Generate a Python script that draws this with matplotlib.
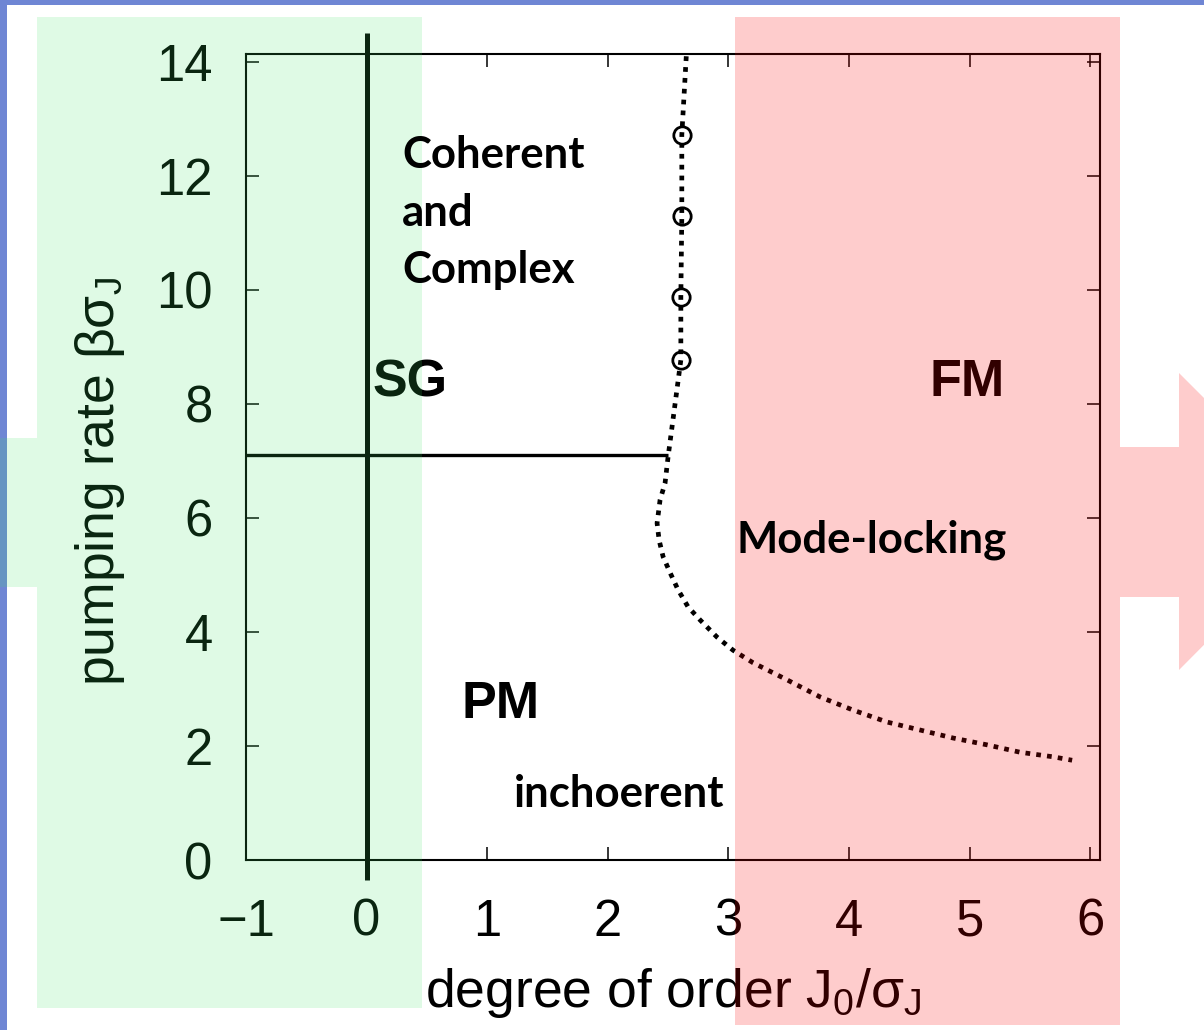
import numpy as np
import matplotlib
matplotlib.use("Agg")
import matplotlib.pyplot as plt
from matplotlib.patches import Polygon

plt.rcParams['font.family'] = ['Liberation Sans', 'DejaVu Sans']
plt.rcParams['mathtext.default'] = 'regular'

# phase boundary (dotted)
boundary_x = [2.65, 2.613, 2.613, 2.605, 2.605, 2.499, 2.474, 2.433, 2.408, 2.425,
              2.458, 2.516, 2.582, 2.665, 2.765, 2.905, 3.038, 3.204, 3.486, 3.760,
              4.033, 4.315, 4.589, 4.862, 5.144, 5.418, 5.692, 5.849]
boundary_y = [14.1, 12.72, 11.29, 9.88, 8.77, 7.07, 6.61, 6.32, 5.91, 5.61,
              5.32, 5.04, 4.74, 4.44, 4.21, 3.91, 3.68, 3.46, 3.16, 2.86,
              2.63, 2.42, 2.28, 2.14, 2.02, 1.89, 1.81, 1.75]

# open circles on the upper branch
circle_x = [2.613, 2.613, 2.605, 2.605]
circle_y = [12.72, 11.29, 9.88, 8.77]

# SG / PM border (horizontal) and the J0 = 0 line
sg_line_x = [-1, 2.5]
sg_line_y = [7.1, 7.1]
zero_line_x = [0, 0]
zero_line_y = [-0.35, 14.51]

x_ticks = [-1, 0, 1, 2, 3, 4, 5, 6]
y_ticks = [0, 2, 4, 6, 8, 10, 12, 14]

W, H = 1204, 1030
fig = plt.figure(figsize=(W / 100, H / 100), dpi=100)


def px(pts):
    return [(x / W, 1 - y / H) for x, y in pts]


ax = fig.add_axes([246 / W, (H - 860) / H, 854 / W, 806 / H])
ax.set_facecolor('none')
ax.set_xlim(-1, 6.08)
ax.set_ylim(0, 14.14)

ax.plot(zero_line_x, zero_line_y, color='black', lw=3.6, clip_on=False,
        solid_capstyle='butt')
ax.plot(sg_line_x, sg_line_y, color='black', lw=2.4, solid_capstyle='butt')
ax.plot(boundary_x, boundary_y, color='black', lw=3.4,
        linestyle=(0, (1, 1.3)), dash_capstyle='butt', clip_on=False)
ax.plot(circle_x, circle_y, linestyle='none', marker='o', ms=12.5,
        mfc='none', mec='black', mew=2.0)

ax.text(0.053, 8.14, 'SG', fontsize=37.5, fontweight='bold')
ax.text(4.67, 8.14, 'FM', fontsize=37.5, fontweight='bold')
ax.text(0.79, 2.49, 'PM', fontsize=37.5, fontweight='bold')

ax.set_xticks(x_ticks)
ax.set_yticks(y_ticks)
ax.tick_params(direction='in', length=9.5, width=1.1, top=True, right=True,
               labelsize=36.5)
ax.tick_params(axis='x', pad=27)
ax.tick_params(axis='y', pad=24)
for s in ax.spines.values():
    s.set_linewidth(1.5)

ax.set_xlabel('degree of order J$_0$/σ$_J$', fontsize=38.5)
ax.xaxis.set_label_coords(0.5, -0.131)
ax.set_ylabel('pumping rate βσ$_J$', fontsize=38.5)
ax.yaxis.set_label_coords(-0.139, 0.47)

# slide background strips
fig.add_artist(Polygon(px([(0, 0), (W, 0), (W, 5), (7, 5), (7, H), (0, H)]),
                       closed=True, transform=fig.transFigure,
                       facecolor='#6f86d4', edgecolor='none', zorder=-1))

# translucent green / red panels with arrows
green = px([(37, 17), (422, 17), (422, 1008), (37, 1008), (37, 587),
            (0, 587), (0, 438), (37, 438)])
red = px([(735, 17), (1120, 17), (1120, 447), (1179, 447), (1179, 373),
          (1327, 521), (1179, 670), (1179, 597), (1120, 597), (1120, 1025),
          (735, 1025)])
fig.add_artist(Polygon(green, closed=True, transform=fig.transFigure,
                       facecolor=(61 / 255, 230 / 255, 103 / 255),
                       alpha=0.165, edgecolor='none', zorder=5))
fig.add_artist(Polygon(red, closed=True, transform=fig.transFigure,
                       facecolor=(250 / 255, 0, 0), alpha=0.2,
                       edgecolor='none', zorder=5))

# slide annotations on top of the panels
note = dict(transform=ax.transData, fontsize=31.5, fontweight='bold',
            family=['Lato', 'DejaVu Sans'], color='black', zorder=6)
fig.text(0.2935, 12.14, 'Coherent', **note)
fig.text(0.2935, 11.12, 'and', **note)
fig.text(0.2935, 10.12, 'Complex', **note)
fig.text(3.07, 5.40, 'Mode-locking', **note)
fig.text(1.22, 0.93, 'inchoerent', **note)

fig.savefig('out.png', dpi=100)
